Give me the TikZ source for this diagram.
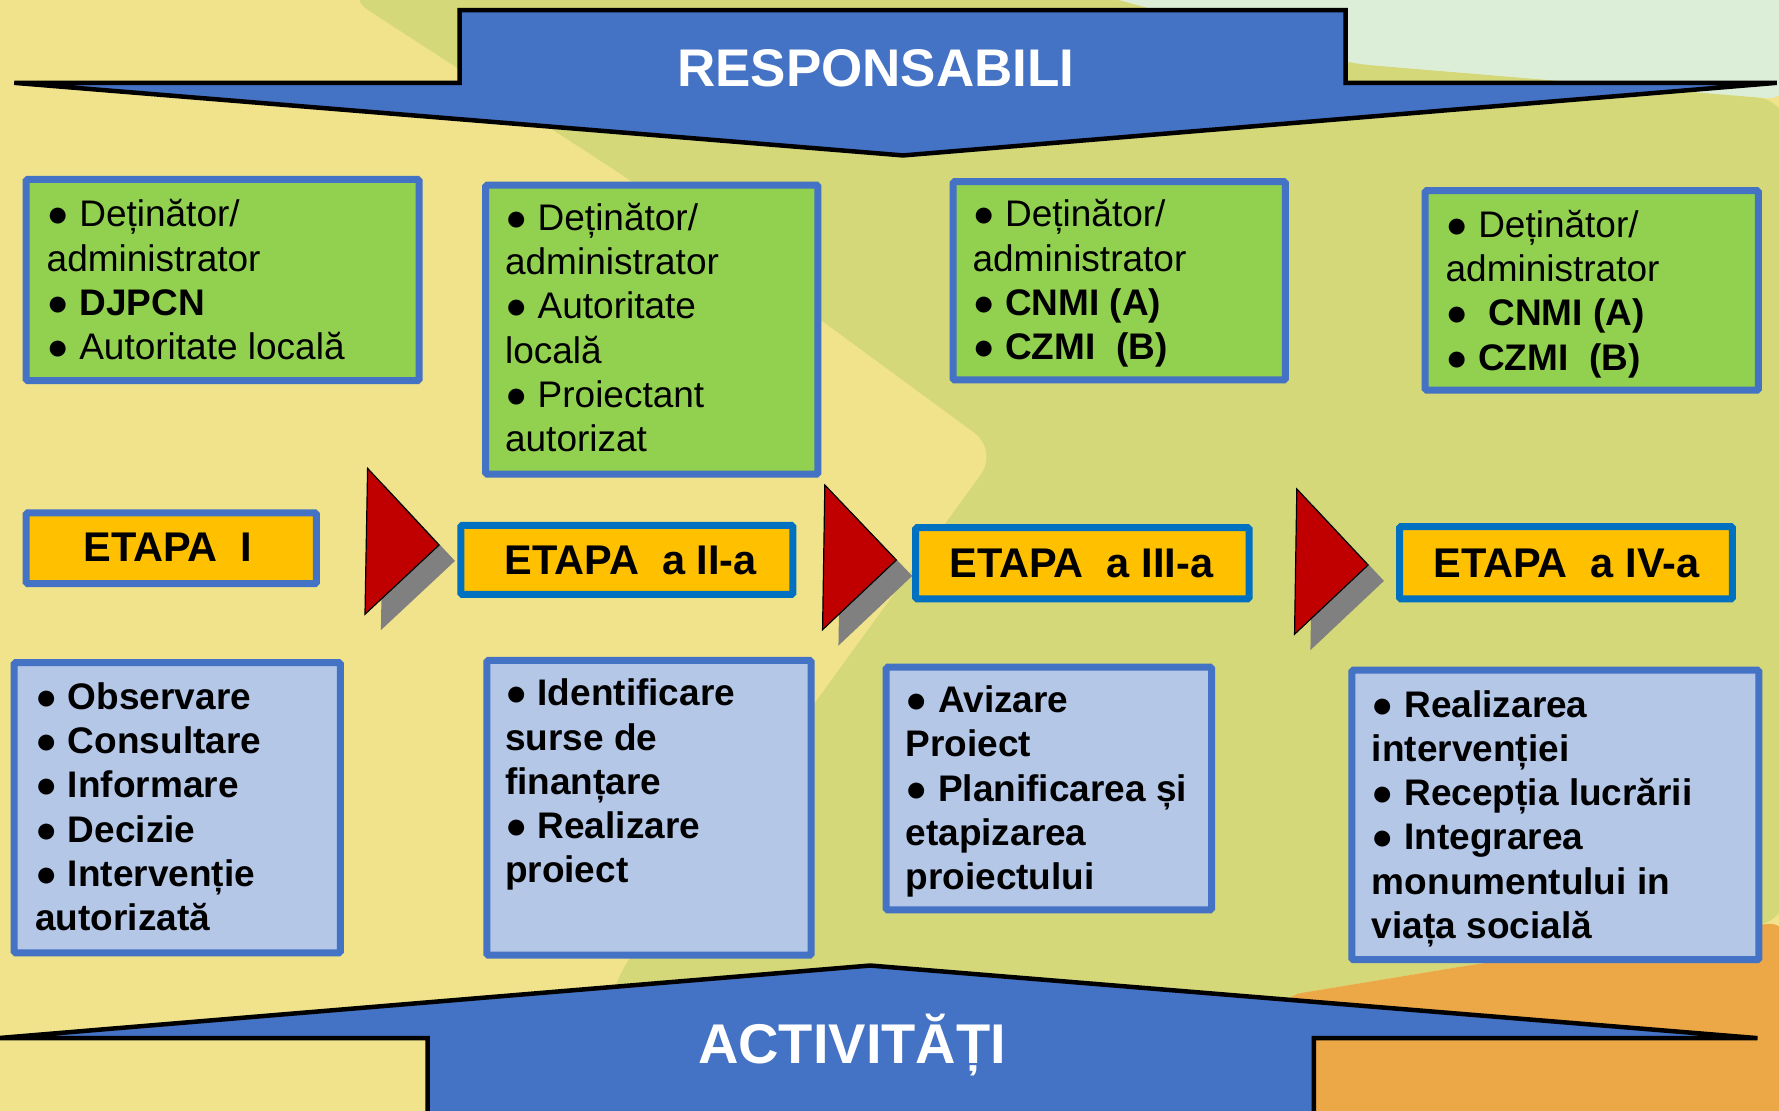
\documentclass[tikz,border=0pt]{standalone}
\usepackage{fontspec}
\setmainfont{Liberation Sans}
\definecolor{bgyellow}{HTML}{F1E38B}
\definecolor{bggreen}{HTML}{D4D878}
\definecolor{bgmint}{HTML}{DCEDD8}
\definecolor{bgorange}{HTML}{ECA847}
\definecolor{bannerblue}{HTML}{4472C4}
\definecolor{boxgreen}{HTML}{92D050}
\definecolor{boxlav}{HTML}{B4C7E7}
\definecolor{borderblue}{HTML}{4472C4}
\definecolor{etapafill}{HTML}{FFC000}
\definecolor{etapablue}{HTML}{0070C0}
\definecolor{arrowred}{HTML}{C00000}
\definecolor{shadowgray}{HTML}{808080}
\newcommand\txtblock[2]{\parbox[t]{#1}{\raggedright #2}}
\tikzset{
  banner/.style={fill=bannerblue, draw=black, line width=4.5pt},
  greenbox/.style={fill=boxgreen, draw=borderblue, line width=7pt, rounded corners=1.5pt},
  lavbox/.style={fill=boxlav, draw=borderblue, line width=7pt, rounded corners=1.5pt},
  etapabox/.style={fill=etapafill, draw=etapablue, line width=7pt, rounded corners=1.5pt},
  txt/.style={anchor=base west, inner sep=0pt, font=\fontsize{37}{44.3}\selectfont},
  btxt/.style={txt, font=\bfseries\fontsize{37}{44.3}\selectfont},
  etxt/.style={anchor=base, inner sep=0pt, font=\bfseries\fontsize{41.5}{46}\selectfont},
  ttxt/.style={anchor=base, inner sep=0pt, text=white, font=\bfseries\fontsize{53}{60}\selectfont},
  redtri/.style={fill=arrowred, draw=black, line width=1.2pt},
  shadowtri/.style={fill=shadowgray},
}
\begin{document}
\begin{tikzpicture}[x=1.1346pt,y=-1.1346pt]
\useasboundingbox (0,0) rectangle (1568,979);
% background
\fill[bgyellow] (0,0) rectangle (1568,979);
\fill[bggreen, rounded corners=30pt] (303,-5) -- (556,159) -- (880,397) -- (752,573) -- (541,864) -- (515,990) -- (1100,990) -- (1130,878) -- (1300,850) -- (1575,812) -- (1575,88) -- (1191,56) -- (968,-5) -- cycle;
\fill[bgmint, rounded corners=20pt] (968,-5) -- (1191,56) -- (1575,88) -- (1575,-5) -- cycle;
\fill[bgorange, rounded corners=20pt] (1100,990) -- (1130,878) -- (1300,850) -- (1575,812) -- (1575,990) -- cycle;
% banners
\draw[banner] (12.6,73) -- (405,73) -- (405,9) -- (1186,9) -- (1186,73) -- (1566,73) -- (796,137) -- cycle;
\node[ttxt] (resp) at (772,76) {RESPONSABILI};
\draw[banner] (-2,915) -- (767,851) -- (1549,915) -- (1158,915) -- (1158,990) -- (377,990) -- (377,915) -- cycle;
\node[ttxt, font=\bfseries\fontsize{56}{60}\selectfont] (activ) at (751,937) {ACTIVITĂȚI};
% responsible boxes
\draw[greenbox] (23.1,158.1) rectangle (369.4,335.4);
\node[txt] (g1) at (41,200) {\txtblock{369pt}{● Deținător/\\administrator\\● \textbf{DJPCN}\\● Autoritate locală}};
\draw[greenbox] (428.1,163.1) rectangle (720.9,417.9);
\node[txt] (g2) at (445,203) {\txtblock{308pt}{● Deținător/\\administrator\\● Autoritate\\locală\\● Proiectant\\autorizat}};
\draw[greenbox] (840.1,160.1) rectangle (1132.9,334.9);
\node[txt] (g3) at (857,200) {\txtblock{308pt}{● Deținător/\\administrator\\● \textbf{CNMI (A)}\\● \textbf{CZMI~~(B)}}};
\draw[greenbox] (1256.1,168.1) rectangle (1549.9,343.9);
\node[txt] (g4) at (1274,209) {\txtblock{308pt}{● Deținător/\\administrator\\●~~\textbf{CNMI (A)}\\● \textbf{CZMI~~(B)}}};
% stages
\draw[etapabox, draw=borderblue] (23.1,452.1) rectangle (278.9,514.5);
\node[etxt] (e1) at (148,495) {ETAPA~~I};
\draw[etapabox] (406.1,463.1) rectangle (698.9,523.9);
\node[etxt] (e2) at (556,506) {ETAPA~~a II-a};
\draw[etapabox] (807.1,465.1) rectangle (1100.9,527.9);
\node[etxt] (e3) at (953,509) {ETAPA~~a III-a};
\draw[etapabox] (1233.5,464.1) rectangle (1526.9,527.9);
\node[etxt] (e4) at (1380.6,509) {ETAPA~~a IV-a};
% arrows
\fill[shadowtri] (338,426.8) -- (401,494.4) -- (335.7,555.4) -- cycle;
\draw[redtri] (324,412.8) -- (387,480.4) -- (321.7,541.4) -- cycle;
\fill[shadowtri] (741,441.5) -- (804,507.6) -- (739,569) -- cycle;
\draw[redtri] (727,427.5) -- (790,493.6) -- (725,555) -- cycle;
\fill[shadowtri] (1157,445) -- (1219.8,512) -- (1155,573) -- cycle;
\draw[redtri] (1143,431) -- (1205.8,498) -- (1141,559) -- cycle;
% activity boxes
\draw[lavbox] (12.5,584.1) rectangle (299.9,839.9);
\node[btxt] (a1) at (31,625) {\txtblock{300pt}{● Observare\\● Consultare\\● Informare\\● Decizie\\● Intervenție\\autorizată}};
\draw[lavbox] (429.1,582.1) rectangle (714.9,841.9);
\node[btxt] (a2) at (445,622) {\txtblock{302pt}{● Identificare\\surse de\\finanțare\\● Realizare\\proiect}};
\draw[lavbox] (781.1,588.1) rectangle (1067.9,801.9);
\node[btxt] (a3) at (798,628) {\txtblock{302pt}{● Avizare\\Proiect\\● Planificarea și\\etapizarea\\proiectului}};
\draw[lavbox] (1191.5,590.7) rectangle (1550.2,845.9);
\node[btxt] (a4) at (1209,632) {\txtblock{382pt}{● Realizarea\\intervenției\\● Recepția lucrării\\● Integrarea\\monumentului in\\viața socială}};
\end{tikzpicture}
\end{document}
